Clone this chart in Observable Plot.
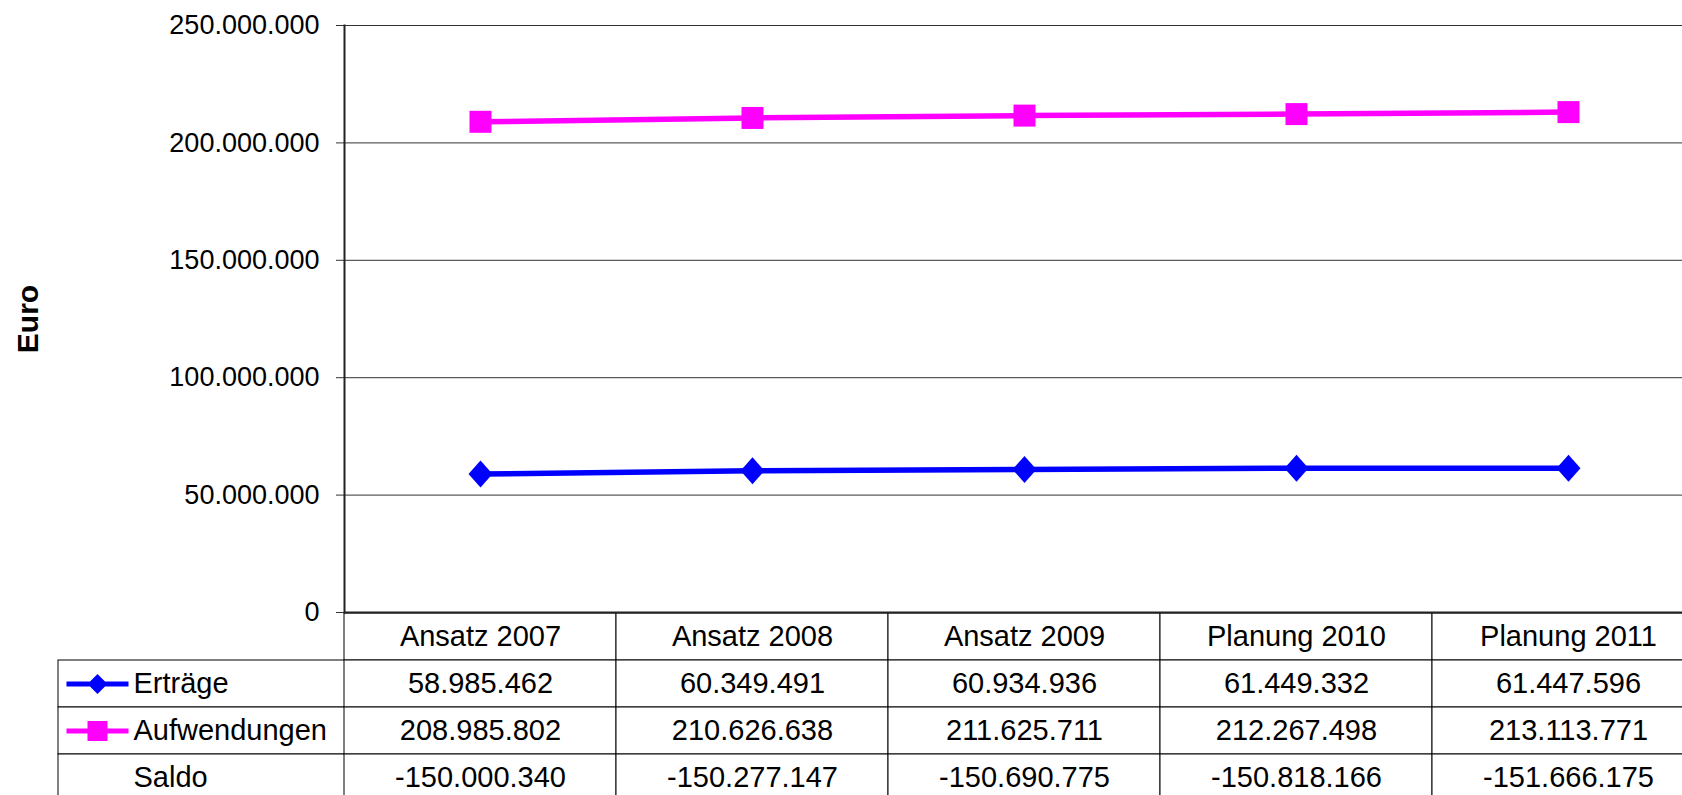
<!DOCTYPE html>
<html>
<head>
<meta charset="utf-8">
<script src="https://cdn.jsdelivr.net/npm/d3@7"></script>
<script src="https://cdn.jsdelivr.net/npm/@observablehq/plot@0.6"></script>
<style>
  html, body { margin: 0; padding: 0; background: #fff; overflow: hidden; }
  #wrap { position: relative; width: 1682px; height: 795px; overflow: hidden; background: #fff; }
  #wrap svg { position: absolute; left: 0; }
</style>
</head>
<body>
<div id="wrap"></div>
<script>
// ---- data ----
const categories = ["Ansatz 2007", "Ansatz 2008", "Ansatz 2009", "Planung 2010", "Planung 2011"];
const ertraege = [58985462, 60349491, 60934936, 61449332, 61447596];
const aufwendungen = [208985802, 210626638, 211625711, 212267498, 213113771];
const saldo = [-150000340, -150277147, -150690775, -150818166, -151666175];
const seriesNames = ["Erträge", "Aufwendungen", "Saldo"];
const yTicks = [0, 50000000, 100000000, 150000000, 200000000, 250000000];
const yLabel = "Euro";

// ---- helpers ----
const de = d3.formatLocale({decimal: ",", thousands: ".", grouping: [3], currency: ["", " €"], minus: "-"});
const fmt = de.format(",d");
const font = "'Liberation Sans', Arial, Helvetica, sans-serif";

const diamondSym = (hw, hh) => ({draw(ctx) { ctx.moveTo(0, -hh); ctx.lineTo(hw, 0); ctx.lineTo(0, hh); ctx.lineTo(-hw, 0); ctx.closePath(); }});
const squareSym = (h) => ({draw(ctx) { ctx.rect(-h, -h, 2 * h, 2 * h); }});
const legendSym = (marker) => ({draw(ctx) { ctx.rect(-31, -2.5, 62, 5); marker.draw(ctx); }});

const ertData = categories.map((c, i) => ({cat: c, value: ertraege[i]}));
const aufData = categories.map((c, i) => ({cat: c, value: aufwendungen[i]}));

const rowValues = {"Erträge": ertraege, "Aufwendungen": aufwendungen, "Saldo": saldo};
const cells = [];
categories.forEach((c, i) => {
  cells.push({cat: c, row: "head", label: c});
  for (const s of seriesNames) cells.push({cat: c, row: s, label: fmt(rowValues[s][i])});
});

const blue = "#0000ff", magenta = "#ff00ff";

// ---- table (below chart) ----
const table = Plot.plot({
  width: 1682, height: 183,
  marginTop: 0, marginBottom: 0, marginLeft: 58, marginRight: 0,
  style: {fontFamily: font, fontSize: "29px", background: "transparent", color: "#000"},
  x: {type: "band", domain: categories, range: [344, 1704], padding: 0, axis: null},
  y: {type: "band", domain: ["head", ...seriesNames], range: [0, 190], padding: 0, axis: null},
  marks: [
    Plot.cell(seriesNames, {y: d => d, fill: "white", stroke: "#000", inset: 0}),
    Plot.cell(cells, {x: "cat", y: "row", fill: "white", stroke: "#000", inset: 0}),
    Plot.text(cells, {x: "cat", y: "row", text: "label", fontSize: 29, fill: "#000"}),
    Plot.text(seriesNames, {y: d => d, text: d => d, frameAnchor: "left", dx: 75, textAnchor: "start", fontSize: 29, fill: "#000"}),
    Plot.dot(["Erträge"], {y: d => d, frameAnchor: "left", dx: 39, r: 10, symbol: legendSym(diamondSym(10, 10)), fill: blue, stroke: "none"}),
    Plot.dot(["Aufwendungen"], {y: d => d, frameAnchor: "left", dx: 39, r: 10, symbol: legendSym(squareSym(10)), fill: magenta, stroke: "none"})
  ]
});
table.style.top = "612px";

// ---- chart ----
const chart = Plot.plot({
  width: 1682, height: 640,
  marginTop: 25, marginBottom: 28, marginLeft: 344, marginRight: 0,
  style: {fontFamily: font, fontSize: "27px", background: "transparent", color: "#000"},
  x: {type: "point", domain: categories, range: [344, 1704], padding: 0.5, axis: null},
  y: {domain: [0, 250000000]},
  marks: [
    Plot.gridY(yTicks, {stroke: "#333", strokeOpacity: 1, strokeWidth: 1}),
    Plot.axisY(yTicks, {tickFormat: fmt, tickSize: 8, tickPadding: 17, fontSize: 27, stroke: "#333", fill: "#000", label: null}),
    Plot.frame({anchor: "left", stroke: "#222", strokeWidth: 2}),
    Plot.ruleY([0], {stroke: "#222", strokeWidth: 2}),
    Plot.text([yLabel], {frameAnchor: "left", dx: -316, rotate: -90, textAnchor: "middle", text: d => d, fontWeight: "bold", fontSize: 30, fill: "#000"}),
    Plot.lineY(ertData, {x: "cat", y: "value", stroke: blue, strokeWidth: 5.5}),
    Plot.lineY(aufData, {x: "cat", y: "value", stroke: magenta, strokeWidth: 5.5}),
    Plot.dot(ertData, {x: "cat", y: "value", r: 12, symbol: diamondSym(12, 13.5), fill: blue, stroke: "none"}),
    Plot.dot(aufData, {x: "cat", y: "value", r: 11, symbol: squareSym(11), fill: magenta, stroke: "none"})
  ]
});
chart.style.top = "0px";

const wrap = document.getElementById("wrap");
wrap.appendChild(table);
wrap.appendChild(chart);
</script>
</body>
</html>
